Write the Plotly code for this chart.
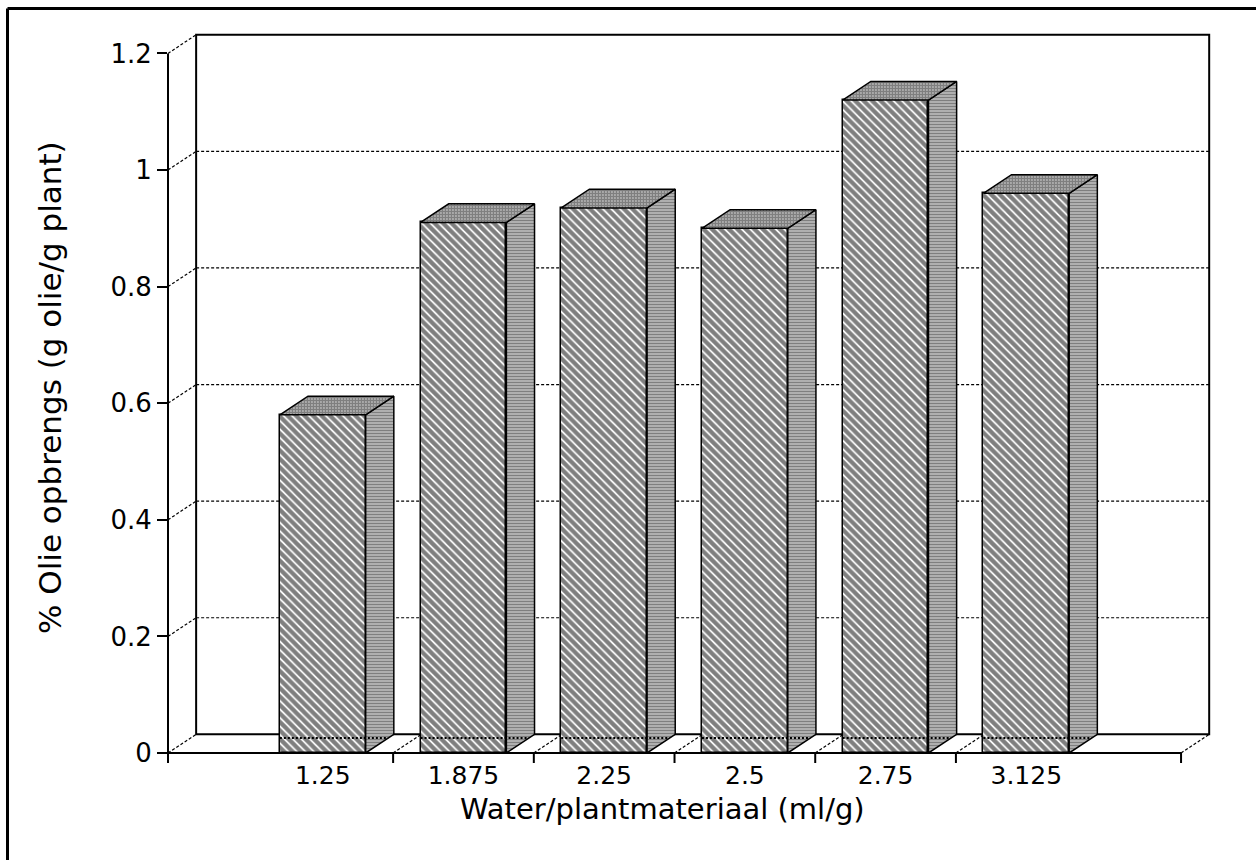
import plotly.graph_objects as go

# ---- data ----
categories = ["1.25", "1.875", "2.25", "2.5", "2.75", "3.125"]
oil_yield = [0.58, 0.91, 0.935, 0.90, 1.12, 0.96]
y_ticks = [0, 0.2, 0.4, 0.6, 0.8, 1.0, 1.2]
y_tick_labels = ["0", "0.2", "0.4", "0.6", "0.8", "1", "1.2"]

x_title = "Water/plantmateriaal (ml/g)"
y_title = "% Olie opbrengs (g olie/g plant)"

# ---- pseudo-3D box geometry (axis units) ----
X_LEFT, X_RIGHT = -0.1, 7.1      # front floor edge
DX, DY = 0.2, 0.032              # depth offset of the back wall
BAR_W = 0.61
Y_MAX = 1.2
X_RANGE = [X_LEFT, X_RIGHT + DX + 0.02]
Y_RANGE = [0, Y_MAX + DY + 0.003]

W, H = 1256, 860
M = dict(l=168, r=44, t=33, b=107)
PW = W - M["l"] - M["r"]
PH = H - M["t"] - M["b"]

positions = list(range(1, len(categories) + 1))
boundaries = [p + 0.5 for p in positions[:-1]]

FONT = "DejaVu Sans"
dash = "3px,2px"

fig = go.Figure()

# front faces of the columns
fig.add_trace(go.Bar(
    x=positions, y=oil_yield, width=BAR_W,
    marker=dict(color="white", line=dict(color="black", width=1.5),
                pattern=dict(shape="\\", fgcolor="black", bgcolor="white",
                             size=6, solidity=0.7)),
    showlegend=False, hoverinfo="skip",
))

# side and top faces
for p, v in zip(positions, oil_yield):
    xl, xr = p - BAR_W / 2, p + BAR_W / 2
    fig.add_trace(go.Scatter(
        x=[xr, xr + DX, xr + DX, xr, xr], y=[0, DY, v + DY, v, 0],
        mode="lines", fill="toself", fillcolor="white",
        fillpattern=dict(shape="-", fgcolor="black", bgcolor="white",
                         size=3, solidity=0.75),
        line=dict(color="black", width=1.5),
        showlegend=False, hoverinfo="skip",
    ))
    fig.add_trace(go.Scatter(
        x=[xl, xr, xr + DX, xl + DX, xl], y=[v, v, v + DY, v + DY, v],
        mode="lines", fill="toself", fillcolor="white",
        fillpattern=dict(shape=".", fgcolor="black", bgcolor="white",
                         size=3, solidity=0.8),
        line=dict(color="black", width=1.5),
        showlegend=False, hoverinfo="skip",
    ))

# dotted seam near the column bases
seam_x, seam_y = [], []
for p in positions:
    seam_x += [p - BAR_W / 2, p + BAR_W / 2 + DX * 0.8, None]
    seam_y += [DY * 0.8, DY * 0.8, None]
fig.add_trace(go.Scatter(
    x=seam_x, y=seam_y, mode="lines",
    line=dict(color="black", width=2, dash="2px,2px"),
    showlegend=False, hoverinfo="skip",
))

shapes = []
# back wall
shapes.append(dict(type="rect", xref="x", yref="y",
                   x0=X_LEFT + DX, x1=X_RIGHT + DX, y0=DY, y1=Y_MAX + DY,
                   line=dict(color="black", width=2), layer="below"))
# gridlines on the back wall
for v in y_ticks[1:-1]:
    shapes.append(dict(type="line", xref="x", yref="y",
                       x0=X_LEFT + DX, x1=X_RIGHT + DX, y0=v + DY, y1=v + DY,
                       line=dict(color="black", width=1.2, dash=dash), layer="below"))
# side wall connectors from the front axis to the back wall
for v in y_ticks:
    shapes.append(dict(type="line", xref="x", yref="y",
                       x0=X_LEFT, x1=X_LEFT + DX, y0=v, y1=v + DY,
                       line=dict(color="black", width=1.2, dash=dash), layer="below"))
# floor connectors
for b in boundaries + [X_RIGHT]:
    shapes.append(dict(type="line", xref="x", yref="y",
                       x0=b, x1=b + DX, y0=0, y1=DY,
                       line=dict(color="black", width=1.2, dash=dash), layer="below"))
# front value axis line
shapes.append(dict(type="line", xref="paper", yref="paper",
                   x0=0, x1=0, y0=-10 / PH, y1=Y_MAX / Y_RANGE[1],
                   line=dict(color="black", width=2), layer="above"))
# front category axis line
shapes.append(dict(type="line", xref="x", yref="paper",
                   x0=X_LEFT, x1=X_RIGHT, y0=0, y1=0,
                   line=dict(color="black", width=2), layer="above"))
# category boundary ticks
for b in boundaries + [X_RIGHT]:
    shapes.append(dict(type="line", xref="x", yref="paper",
                       x0=b, x1=b, y0=0, y1=-10 / PH,
                       line=dict(color="black", width=2), layer="above"))
# outer frame (top and left edges)
fx = (7.5 - M["l"]) / PW
fy = 1 + (M["t"] - 8.5) / PH
shapes.append(dict(type="line", xref="paper", yref="paper",
                   x0=fx, x1=(W - M["l"]) / PW, y0=fy, y1=fy,
                   line=dict(color="black", width=3)))
shapes.append(dict(type="line", xref="paper", yref="paper",
                   x0=fx, x1=fx, y0=fy, y1=-M["b"] / PH,
                   line=dict(color="black", width=3)))

annotations = [
    dict(text=x_title, xref="paper", yref="paper",
         x=(662 - M["l"]) / PW, y=-(809 - (H - M["b"])) / PH,
         xanchor="center", yanchor="middle", showarrow=False,
         font=dict(family=FONT, size=29, color="black")),
    dict(text=y_title, xref="paper", yref="paper",
         x=(50 - M["l"]) / PW, y=((H - M["b"]) - 388) / PH,
         xanchor="center", yanchor="middle", showarrow=False, textangle=-90,
         font=dict(family=FONT, size=31, color="black")),
]

fig.update_layout(
    width=W, height=H, margin=M,
    paper_bgcolor="white", plot_bgcolor="white",
    font=dict(family=FONT, color="black"),
    shapes=shapes, annotations=annotations,
    bargap=0,
    xaxis=dict(range=X_RANGE, tickvals=positions, ticktext=categories,
               ticks="", showline=False, showgrid=False, zeroline=False,
               ticklabelstandoff=5, tickfont=dict(size=25, family=FONT)),
    yaxis=dict(range=Y_RANGE, tickvals=y_ticks, ticktext=y_tick_labels,
               ticks="outside", ticklen=10, tickwidth=2, tickcolor="black",
               showline=False, showgrid=False, zeroline=False,
               tickfont=dict(size=26, family=FONT)),
)

fig.write_html("out.html")
